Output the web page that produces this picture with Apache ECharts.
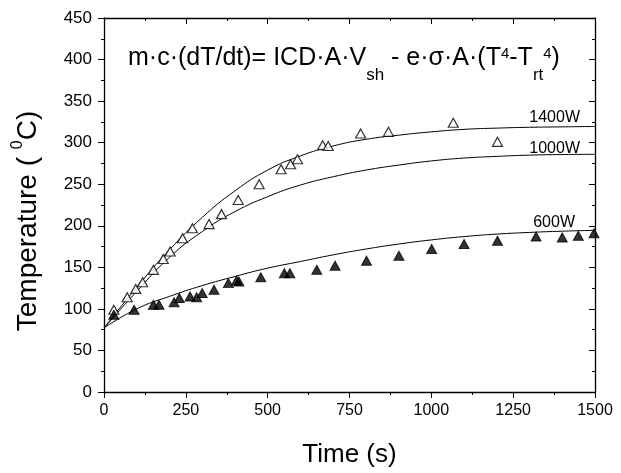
<!DOCTYPE html>
<html>
<head>
<meta charset="utf-8">
<script src="https://cdn.jsdelivr.net/npm/echarts@6/dist/echarts.min.js"></script>
<style>html,body{margin:0;padding:0;background:#fff}#c{width:621px;height:473px}</style>
</head>
<body>
<div id="c"></div>
<script>
// ---- data ----
const xTicks = [0, 250, 500, 750, 1000, 1250, 1500];
const yTicks = [0, 50, 100, 150, 200, 250, 300, 350, 400, 450];

const t1400 = [30, 71, 97, 118, 151, 181, 202, 240, 270, 321, 359, 410, 474, 541, 570, 591, 668, 685, 784, 869, 1067, 1202];
const T1400 = [99, 114, 124, 132, 147, 160, 169, 185, 197, 202, 214, 231, 250, 268, 274, 280, 297, 296, 311, 313, 324, 301];

const t600 = [30, 92, 151, 168, 214, 230, 263, 283, 300, 336, 380, 405, 412, 479, 551, 568, 650, 706, 802, 901, 1001, 1100, 1202, 1320, 1400, 1449, 1497];
const T600 = [93, 99, 105, 105, 108, 113, 115, 114, 119, 123, 131, 134, 133, 138, 143, 143, 147, 152, 158, 164, 172, 178, 182, 187, 186, 188, 191];

const fitTime = [0, 100, 200, 300, 400, 500, 600, 700, 800, 900, 1000, 1100, 1200, 1300, 1400, 1500];
const fit1400 = [77, 126, 171, 210, 242, 267, 284, 296, 304, 309, 313, 316, 317.5, 318.5, 319, 319.5];
const fit1000 = [77, 121, 162, 193, 217, 235, 249, 259, 267, 273, 278, 281.5, 283.5, 285, 285.7, 286];
const fit600  = [77, 100, 115, 128, 139, 149, 157, 165, 172, 178, 183, 187, 190, 192, 193.5, 194.5];

const curveLabels = ['1400W', '1000W', '600W'];

// ---- chart ----
const zip = (a, b) => a.map((v, i) => [v, b[i]]);
const F = 'Liberation Sans, Arial, sans-serif';
const chart = echarts.init(document.getElementById('c'), null, {renderer: 'canvas'});

const baseX = {
  type: 'value', min: 0, max: 1500, interval: 250,
  axisLine: {show: true, onZero: false, lineStyle: {color: '#000', width: 1.3}},
  splitLine: {show: false},
  minorTick: {show: true, splitNumber: 2, length: 3, lineStyle: {color: '#000'}},
};
const baseY = {
  type: 'value', min: 0, max: 450, interval: 50,
  axisLine: {show: true, onZero: false, lineStyle: {color: '#000', width: 1.3}},
  splitLine: {show: false},
  minorTick: {show: true, splitNumber: 2, length: 3, lineStyle: {color: '#000'}},
};
const lineSeries = (ys) => ({
  type: 'line', data: zip(fitTime, ys), smooth: true,
  showSymbol: false, lineStyle: {color: '#000', width: 1}, z: 2
});

chart.setOption({
  animation: false,
  backgroundColor: '#fff',
  grid: {left: 104, right: 26, top: 18, bottom: 78, containLabel: false},
  xAxis: [
    Object.assign({}, baseX, {
      position: 'bottom',
      axisTick: {show: true, length: 6, lineStyle: {color: '#000'}},
      axisLabel: {color: '#000', fontSize: 16, fontFamily: F, margin: 11, formatter: (v) => String(v)},
      name: 'Time (s)', nameLocation: 'middle', nameGap: 50,
      nameTextStyle: {color: '#000', fontSize: 26, fontFamily: F}
    }),
    Object.assign({}, baseX, {
      position: 'top',
      axisTick: {show: true, inside: true, length: 6, lineStyle: {color: '#000'}},
      axisLabel: {show: false}
    })
  ],
  yAxis: [
    Object.assign({}, baseY, {
      position: 'left',
      axisTick: {show: true, length: 6, lineStyle: {color: '#000'}},
      axisLabel: {color: '#000', fontSize: 17, fontFamily: F, margin: 12},
      name: '{a|Temperature ( }{s|0}{a|C)}', nameLocation: 'middle', nameGap: 62,
      nameTextStyle: {
        color: '#000', fontFamily: F, fontSize: 28, padding: [0, 32, 0, 0],
        rich: {
          a: {fontSize: 28, fontFamily: F, color: '#000', lineHeight: 32, verticalAlign: 'bottom'},
          s: {fontSize: 16, fontFamily: F, color: '#000', lineHeight: 20, verticalAlign: 'top'}
        }
      }
    }),
    Object.assign({}, baseY, {
      position: 'right',
      axisTick: {show: true, inside: true, length: 6, lineStyle: {color: '#000'}},
      axisLabel: {show: false}
    })
  ],
  series: [
    lineSeries(fit1400),
    lineSeries(fit1000),
    lineSeries(fit600),
    {type: 'scatter', data: zip(t1400, T1400), symbol: 'triangle', symbolSize: [10, 9],
     itemStyle: {color: '#fff', borderColor: '#000', borderWidth: 1.2}, z: 3},
    {type: 'scatter', data: zip(t600, T600), symbol: 'triangle', symbolSize: [10, 9],
     itemStyle: {color: '#000', borderColor: '#000', borderWidth: 1}, z: 3}
  ],
  graphic: [
    {type: 'text', left: 128, top: 46, z: 10, style: {
      text: '{m|m·c·(dT/dt)= ICD·A·V}{sub|sh}{m| - e·σ·A·(T}{sup|4}{m|-T}{sub|rt}{sup|4}{m|)}',
      rich: {
        m: {fontSize: 25, fontFamily: F, fill: '#000', lineHeight: 28, verticalAlign: 'top'},
        sub: {fontSize: 17, fontFamily: F, fill: '#000', lineHeight: 18, padding: [21, 0, 0, 0], verticalAlign: 'top'},
        sup: {fontSize: 15, fontFamily: F, fill: '#000', lineHeight: 16, verticalAlign: 'top'}
      }
    }},
    {type: 'text', right: 41, top: 110, z: 10, style: {text: curveLabels[0], font: '16px ' + F, fill: '#000'}},
    {type: 'text', right: 41, top: 141, z: 10, style: {text: curveLabels[1], font: '16px ' + F, fill: '#000'}},
    {type: 'text', right: 46, top: 215, z: 10, style: {text: curveLabels[2], font: '16px ' + F, fill: '#000'}}
  ]
});
</script>
</body>
</html>
